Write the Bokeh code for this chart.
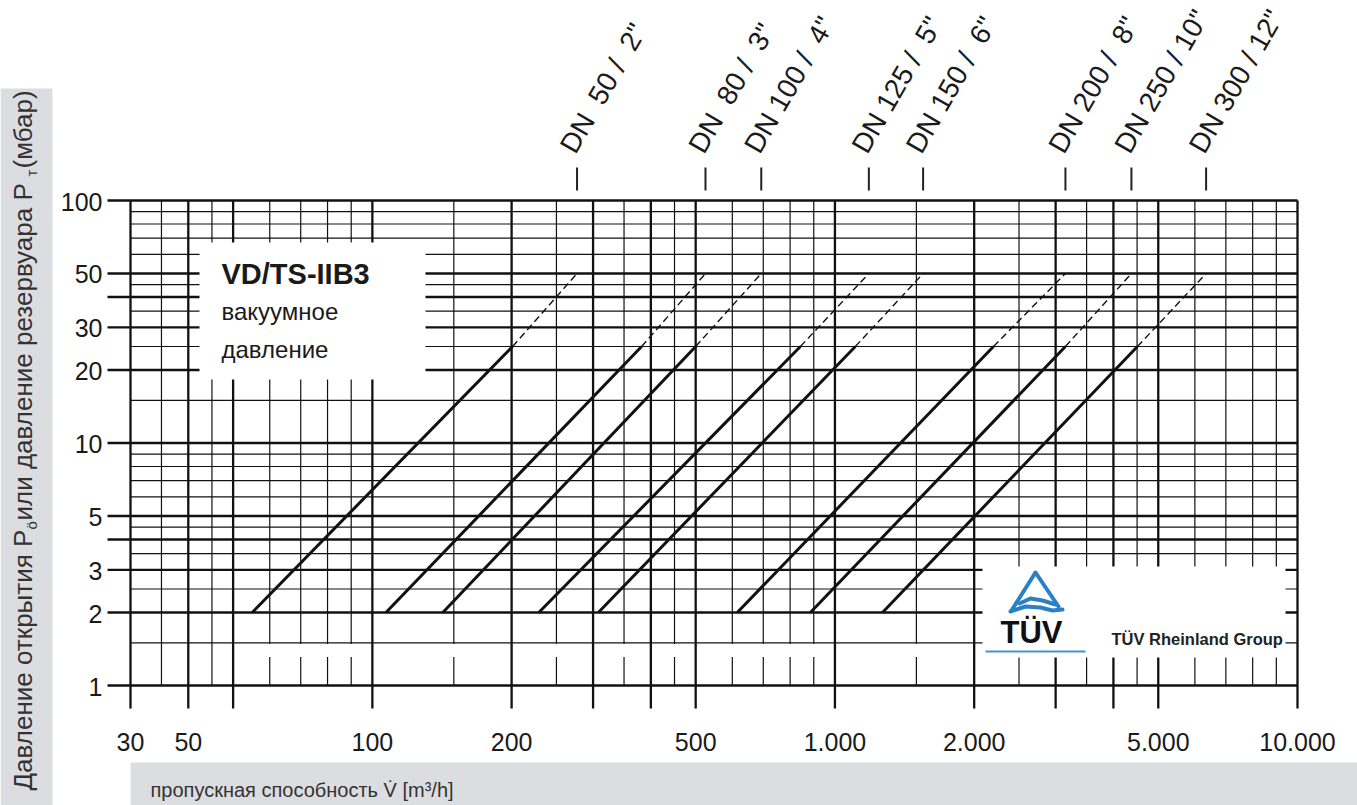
import math
from bokeh.plotting import figure
from bokeh.core.properties import value
from bokeh.embed import file_html
from bokeh.resources import INLINE

# ---------------- data ----------------
dn_labels = ['DN\u00a0\u00a050 /\u00a0\u00a02"', 'DN\u00a0\u00a080 /\u00a0\u00a03"', 'DN 100 /\u00a0\u00a04"',
             'DN 125 /\u00a0\u00a05"', 'DN 150 /\u00a0\u00a06"', 'DN 200 /\u00a0\u00a08"',
             'DN 250 / 10"', 'DN 300 / 12"']
p_start = 2        # mbar, start of solid curve
p_solid_end = 25   # mbar, end of solid curve / start of dashed part
p_dash_end = 50    # mbar, end of dashed part
flow_at_p_start = [55, 107, 142, 229, 308, 615, 885, 1267]
flow_at_p_solid_end = [201, 382, 500, 842, 1107, 2202, 3150, 4508]
flow_at_p_dash_end = [277, 525, 693, 1184, 1551, 3150, 4375, 6345]

x_lim = (30, 10000)
y_lim = (1, 100)
x_major = [30, 40, 50, 100, 200, 300, 400, 500, 1000, 2000, 3000, 4000, 5000, 10000]
x_minor = [35, 45, 60, 70, 80, 90, 150, 250, 350, 450, 600, 700, 800, 900,
           1500, 2500, 3500, 4500, 6000, 7000, 8000, 9000]
x_label_ticks = [30, 40, 100, 200, 500, 1000, 2000, 5000, 10000]
x_label_texts = ["30", "50", "100", "200", "500", "1.000", "2.000", "5.000", "10.000"]
y_major = [1, 2, 3, 4, 5, 10, 20, 30, 40, 50, 100]
y_minor = [1.5, 2.5, 3.5, 4.5, 6, 7, 8, 9, 15, 25, 35, 45, 60, 70, 80, 90]
y_label_ticks = [1, 2, 3, 5, 10, 20, 30, 50, 100]
y_label_texts = ["1", "2", "3", "5", "10", "20", "30", "50", "100"]

# ---------------- layout helpers (page pixel <-> data) ----------------
W, H = 1357, 805
FL, FR, FT, FB = 130, 1297, 200, 685   # chart box edges in page pixels
LX = (math.log10(x_lim[0]), math.log10(x_lim[1]))
LY = (math.log10(y_lim[0]), math.log10(y_lim[1]))
BASE_SHIFT = 0.36   # renderer draws 'alphabetic' text this many em lower


def xd(px):
    return 10 ** (LX[0] + (px - FL) / (FR - FL) * (LX[1] - LX[0]))


def yd(py):
    return 10 ** (LY[0] + (FB - py) / (FB - FT) * (LY[1] - LY[0]))


def xpx(v):
    return FL + (math.log10(v) - LX[0]) / (LX[1] - LX[0]) * (FR - FL)


def ypx(v):
    return FB - (math.log10(v) - LY[0]) / (LY[1] - LY[0]) * (FB - FT)


def base(py, fs):
    """data y for a text whose alphabetic baseline should sit at page pixel py"""
    return yd(py - BASE_SHIFT * fs)


FONT = "Liberation Sans"
INK = "#111111"
GRAY_BAR = "#dcdde0"
TITLE_INK = "#333333"
BLUE = "#2a80c6"

p = figure(x_axis_type="log", y_axis_type="log",
           x_range=(xd(0), xd(W)), y_range=(yd(H), yd(0)),
           frame_width=W, frame_height=H, min_border=0,
           x_axis_location=None, y_axis_location=None,
           toolbar_location=None, output_backend="svg",
           background_fill_color="white", border_fill_color="white")
p.grid.visible = False
p.outline_line_color = None

# gray title bars
p.quad(left=[xd(0), xd(130)], right=[xd(52), xd(W)], top=[yd(88), yd(762)],
       bottom=[yd(H), yd(H)], fill_color=GRAY_BAR, line_color=None)

# thin grid lines
nxm, nym = len(x_minor), len(y_minor)
p.segment(x0=x_minor, x1=x_minor, y0=[y_lim[0]] * nxm, y1=[y_lim[1]] * nxm,
          line_width=1.2, line_color=INK)
p.segment(x0=[x_lim[0]] * nym, x1=[x_lim[1]] * nym, y0=y_minor, y1=y_minor,
          line_width=1.2, line_color=INK)
# small blank band above the bottom row (as in the reference drawing)
p.quad(left=[50], right=[x_lim[1]], top=[yd(643.5)], bottom=[yd(656.5)],
       fill_color="white", line_color=None)

# thick grid lines, extended outwards as tick marks
nx, ny = len(x_major), len(y_major)
p.segment(x0=x_major, x1=x_major, y0=[yd(708)] * nx, y1=[y_lim[1]] * nx,
          line_width=2.3, line_color=INK)
p.segment(x0=[xd(107)] * ny, x1=[x_lim[1]] * ny, y0=y_major, y1=y_major,
          line_width=2.3, line_color=INK)

# tick labels
TFS = 25
p.text(x=x_label_ticks, y=[base(750, TFS)] * len(x_label_ticks), text=x_label_texts,
       text_align="center", text_baseline="alphabetic", text_font=value(FONT),
       text_font_size=f"{TFS}px", text_color="#1a1a1a")
p.text(x=[xd(102)] * len(y_label_ticks), y=[base(ypx(t) + 10, TFS) for t in y_label_ticks],
       text=y_label_texts, text_align="right", text_baseline="alphabetic",
       text_font=value(FONT), text_font_size=f"{TFS}px", text_color="#1a1a1a")

# DN curves: solid 2..25 mbar, dashed 25..50 mbar
n = len(dn_labels)
p.segment(x0=flow_at_p_start, y0=[p_start] * n, x1=flow_at_p_solid_end, y1=[p_solid_end] * n,
          line_width=3, line_color=INK)
p.segment(x0=flow_at_p_solid_end, y0=[p_solid_end] * n, x1=flow_at_p_dash_end, y1=[p_dash_end] * n,
          line_width=1.4, line_color=INK, line_dash="7 4")

# DN markers and rotated labels above the chart
p.segment(x0=flow_at_p_dash_end, x1=flow_at_p_dash_end, y0=[yd(190)] * n, y1=[yd(167)] * n,
          line_width=2, line_color="#222222")
DFS = 28
ang = math.radians(60)
sh = BASE_SHIFT * DFS
p.text(x=[xd(xpx(f) - 1 - sh * math.sin(ang)) for f in flow_at_p_dash_end],
       y=[yd(155 - sh * math.cos(ang))] * n, text=dn_labels, angle=60, angle_units="deg",
       text_align="left", text_baseline="alphabetic", text_font=value(FONT),
       text_font_size=f"{DFS}px", text_color="#1a1a1a")

# x title
XFS = 20
p.text(x=[xd(150)], y=[base(797, XFS)], text=["пропускная способность V\u0307 [m³/h]"],
       text_font=value(FONT), text_font_size=f"{XFS}px", text_color=TITLE_INK,
       text_baseline="alphabetic")

# y title (pieces with subscripts), reading bottom -> top
YFS, SFS = 26, 15
YT_X = 28 - 0.2 * YFS
yt = dict(angle=90, angle_units="deg", text_align="left", text_baseline="middle",
          text_font=value(FONT), text_color=TITLE_INK)
p.text(x=[xd(YT_X)] * 3, y=[yd(790), yd(520), yd(168)],
       text=["Давление открытия P", " или давление резервуара P", " (мбар)"],
       text_font_size=f"{YFS}px", **yt)
p.text(x=[xd(YT_X + 8)] * 2, y=[yd(529), yd(176)], text=["ö", "т"],
       text_font_size=f"{SFS}px", **yt)

# VD box
p.quad(left=[xd(199)], right=[xd(425)], top=[yd(242)], bottom=[yd(379)],
       fill_color="white", line_color=None)
p.text(x=[xd(221)], y=[base(284, 29)], text=["VD/TS-IIB3"], text_font=value(FONT),
       text_font_style="bold", text_font_size="29px", text_color="#1a1a1a",
       text_baseline="alphabetic")
p.text(x=[xd(221)] * 2, y=[base(320, 24), base(358, 24)], text=["вакуумное", "давление"],
       text_font=value(FONT), text_font_size="24px", text_color="#1a1a1a",
       text_baseline="alphabetic")

# TUV box + logo
p.quad(left=[xd(982)], right=[xd(1285)], top=[yd(566)], bottom=[yd(657)],
       fill_color="white", line_color=None)
logo_px = [
    [(1011, 610), (1035, 572), (1058, 606)],
    [(1010, 611), (1025, 606), (1040, 607), (1052, 610), (1062, 609)],
    [(1019, 603), (1030, 598), (1042, 600), (1055, 604)],
]
p.multi_line(xs=[[xd(a) for a, b in seg] for seg in logo_px],
             ys=[[yd(b) for a, b in seg] for seg in logo_px],
             line_width=4, line_color=BLUE, line_join="round", line_cap="round")
p.text(x=[xd(1000)], y=[base(643, 31)], text=["TÜV"], text_font=value(FONT),
       text_font_style="bold", text_font_size="31px", text_color="#111111",
       text_baseline="alphabetic")
p.segment(x0=[xd(985)], x1=[xd(1085)], y0=[yd(651)], y1=[yd(651)],
          line_width=2, line_color="#4a90c8")
p.text(x=[xd(1111)], y=[base(644, 16.5)], text=["TÜV Rheinland Group"], text_font=value(FONT),
       text_font_style="bold", text_font_size="16.5px", text_color="#222222",
       text_baseline="alphabetic")

open("out.html", "w").write(file_html(p, INLINE))
